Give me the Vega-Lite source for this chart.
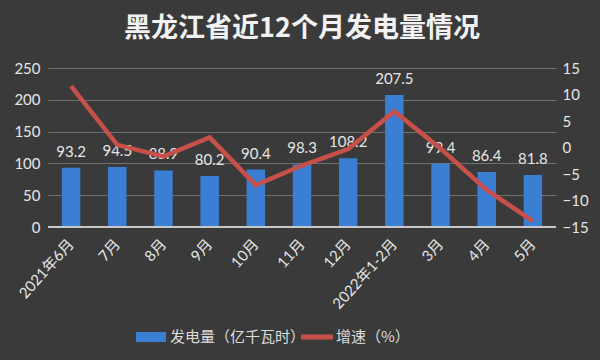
{
  "$schema": "https://vega.github.io/schema/vega-lite/v6.json",
  "width": 508,
  "height": 159,
  "autosize": {"type": "none"},
  "padding": {"left": 48, "top": 68, "right": 44, "bottom": 133},
  "background": "#3a3a3a",
  "title": {
    "text": "黑龙江省近12个月发电量情况",
    "font": "Noto Sans CJK SC",
    "fontSize": 27,
    "fontWeight": "bold",
    "color": "#f2f2f2",
    "anchor": "middle",
    "frame": "group",
    "offset": 18
  },
  "config": {
    "view": {"stroke": null},
    "font": "Lato, Noto Sans CJK SC",
    "axis": {"labelColor": "#e6e6e6", "labelFont": "Lato, Noto Sans CJK SC", "labelFontSize": 15, "titleColor": "#e6e6e6", "labelOverlap": false}
  },
  "data": {
    "values": [
      {"month": "2021年6月", "gen": 93.2, "growth": 11.6},
      {"month": "7月", "gen": 94.5, "growth": 0.5},
      {"month": "8月", "gen": 88.9, "growth": -1.7},
      {"month": "9月", "gen": 80.2, "growth": 1.9},
      {"month": "10月", "gen": 90.4, "growth": -7.1},
      {"month": "11月", "gen": 98.3, "growth": -3.4},
      {"month": "12月", "gen": 108.2, "growth": -0.3},
      {"month": "2022年1-2月", "gen": 207.5, "growth": 6.8},
      {"month": "3月", "gen": 99.4, "growth": -0.2},
      {"month": "4月", "gen": 86.4, "growth": -8.0},
      {"month": "5月", "gen": 81.8, "growth": -13.9}
    ]
  },
  "encoding": {
    "x": {
      "field": "month",
      "type": "nominal",
      "sort": null,
      "scale": {"paddingInner": 0.6, "paddingOuter": 0.3},
      "axis": {
        "title": null,
        "labelAngle": -48,
        "labelAlign": "right",
        "labelBaseline": "middle",
        "labelFontSize": 15,
        "labelPadding": 14,
        "ticks": false,
        "domain": false,
        "grid": false
      }
    }
  },
  "layer": [
    {
      "encoding": {
        "y": {
          "field": "gen",
          "type": "quantitative",
          "scale": {"domain": [0, 250], "nice": false},
          "axis": {
            "title": null,
            "values": [0, 50, 100, 150, 200, 250],
            "ticks": false,
            "domain": false,
            "gridColor": "#707070",
            "gridWidth": 1,
            "labelPadding": 8,
            "labelOverlap": false
          }
        }
      },
      "layer": [
        {
          "mark": {"type": "bar", "clip": false},
          "encoding": {
            "color": {
              "datum": "发电量（亿千瓦时）",
              "type": "nominal",
              "scale": {"domain": ["发电量（亿千瓦时）", "增速（%）"], "range": ["#3a7fd4", "#c8504b"]},
              "legend": {
                "orient": "none",
                "legendX": 93,
                "legendY": 259,
                "direction": "horizontal",
                "title": null,
                "labelColor": "#dddddd",
                "labelFontSize": 15,
                "labelFont": "Noto Sans CJK SC",
                "symbolSize": 400,
                "columnPadding": -5,
                "labelOffset": 9,
                "encode": {
                  "symbols": {
                    "update": {
                      "shape": {"signal": "datum.value === '增速（%）' ? 'M-1.6,-0.25H1.6V0.25H-1.6Z' : 'M-1.5,-0.5H1.5V0.5H-1.5Z'"},
                      "fill": {"scale": "color", "field": "value"},
                      "strokeWidth": {"value": 0},
                      "opacity": {"value": 1}
                    }
                  }
                }
              }
            }
          }
        },
        {
          "mark": {"type": "text", "dy": -16, "fontSize": 15, "color": "#e6e6e6", "font": "Lato"},
          "encoding": {
            "text": {"field": "gen", "type": "quantitative", "format": ".1f"}
          }
        },
        {
          "mark": {"type": "rule", "color": "#c8c8c8", "strokeWidth": 1.5},
          "encoding": {"y": {"datum": 0}, "x": {"value": 0}, "x2": {"value": 508}}
        }
      ]
    },
    {
      "mark": {"type": "line", "strokeWidth": 4.5, "strokeJoin": "miter"},
      "encoding": {
        "y": {
          "field": "growth",
          "type": "quantitative",
          "scale": {"domain": [-15, 15], "nice": false},
          "axis": {
            "title": null,
            "orient": "right",
            "values": [-15, -10, -5, 0, 5, 10, 15],
            "ticks": false,
            "domain": false,
            "grid": false,
            "labelPadding": 6
          }
        },
        "color": {"datum": "增速（%）", "type": "nominal"}
      }
    }
  ],
  "resolve": {"scale": {"y": "independent"}}
}
